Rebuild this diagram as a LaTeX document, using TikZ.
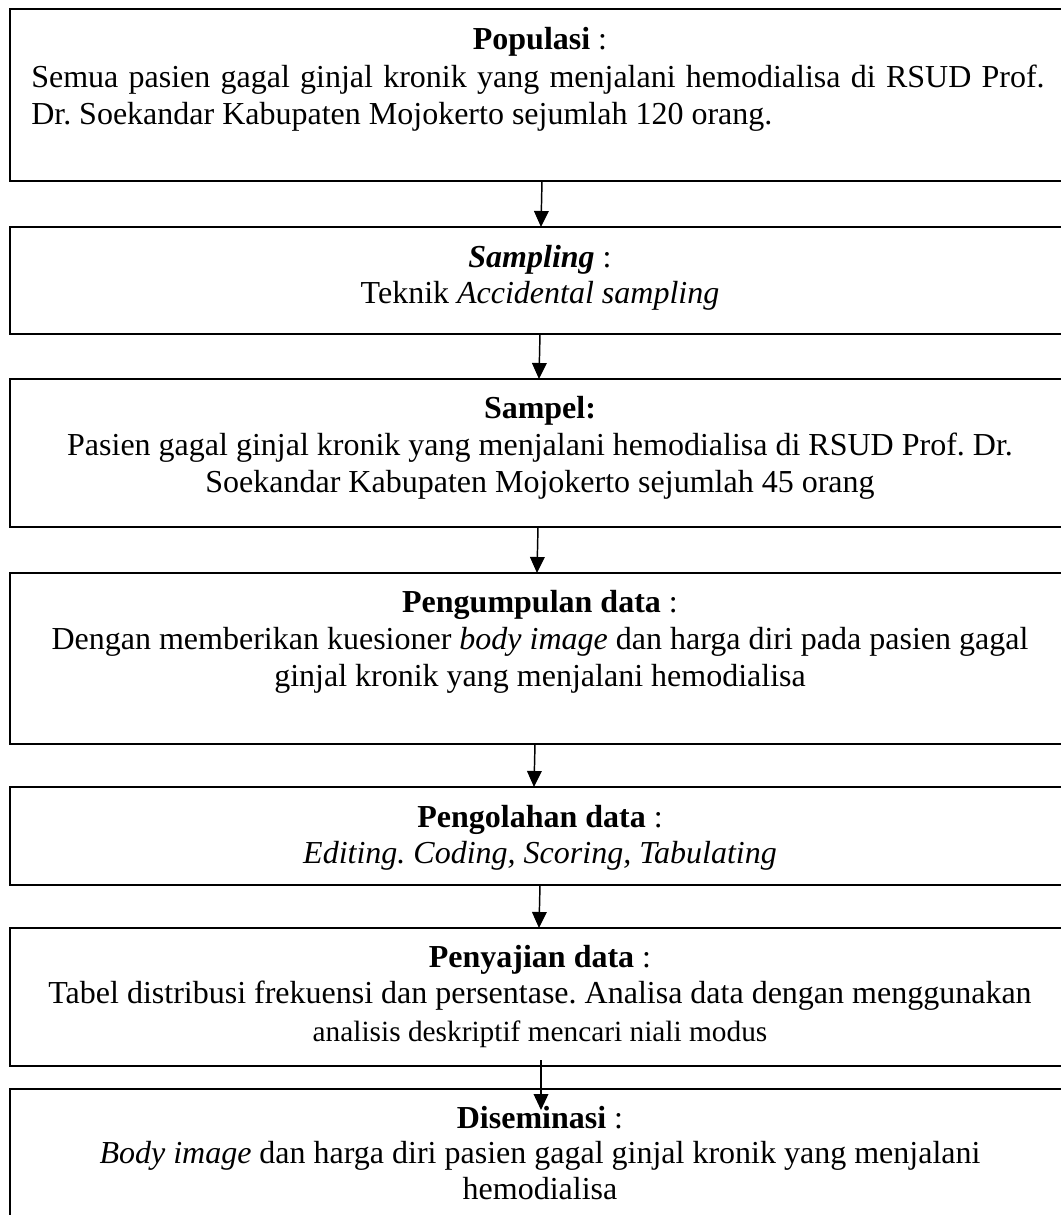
\documentclass[tikz,border=0pt]{standalone}
\usepackage{fontspec}
\setmainfont{Liberation Serif}
\usetikzlibrary{arrows.meta,calc}
\frenchspacing
\begin{document}
\frenchspacing
\begin{tikzpicture}[x=0.75pt,y=-0.75pt,
  box/.style={draw, line width=1.1pt, rectangle, inner sep=0pt, outer sep=0pt, minimum width=795pt, anchor=north west},
  txt/.style={inner sep=0pt, anchor=base, font=\fontsize{24}{28}\selectfont},
  txtl/.style={txt, anchor=base west},
  arr/.style={line width=1.1pt, -{Triangle[length=12pt,width=11pt]}}]
\useasboundingbox (0,0) rectangle (1061,1215);
% boxes
\node[box, minimum height=129pt]    (b1) at (10,9) {};
\node[box, minimum height=80.25pt]  (b2) at (10,227) {};
\node[box, minimum height=111pt]    (b3) at (10,379) {};
\node[box, minimum height=128.25pt] (b4) at (10,573) {};
\node[box, minimum height=73.5pt]   (b5) at (10,787) {};
\node[box, minimum height=103.5pt]  (b6) at (10,928) {};
\node[box, minimum height=113.25pt] (b7) at (10,1089) {};
% texts
\node[txt]  (t1)  at (540,49)  {\textbf{Populasi} :};
\node[txtl] (t1a) at (31,87)   {\makebox[760pt][s]{Semua pasien gagal ginjal kronik yang menjalani hemodialisa di RSUD Prof.}};
\node[txtl] (t1b) at (31,124)  {Dr. Soekandar Kabupaten Mojokerto sejumlah 120 orang.};
\node[txt]  (t2)  at (540,267) {\textbf{\textit{Sampling}} :};
\node[txt]  (t2a) at (540,303) {Teknik \textit{Accidental sampling}};
\node[txt]  (t3)  at (540,418) {\textbf{Sampel:}};
\node[txt]  (t3a) at (540,455) {Pasien gagal ginjal kronik yang menjalani hemodialisa di RSUD Prof. Dr.};
\node[txt]  (t3b) at (540,492) {Soekandar Kabupaten Mojokerto sejumlah 45 orang};
\node[txt]  (t4)  at (540,612) {\textbf{Pengumpulan data} :};
\node[txt]  (t4a) at (540,649) {Dengan memberikan kuesioner \textit{body image} dan harga diri pada pasien gagal};
\node[txt]  (t4b) at (540,686) {ginjal kronik yang menjalani hemodialisa};
\node[txt]  (t5)  at (540,827) {\textbf{Pengolahan data} :};
\node[txt]  (t5a) at (540,863) {\textit{Editing. Coding, Scoring, Tabulating}};
\node[txt]  (t6)  at (540,967) {\textbf{Penyajian data} :};
\node[txt]  (t6a) at (540,1003) {Tabel distribusi frekuensi dan persentase. Analisa data dengan menggunakan};
\node[txt]  (t6b) at (540,1041) {\fontsize{22}{26}\selectfont analisis deskriptif mencari niali modus};
\node[txt]  (t7)  at (540,1128) {\textbf{Diseminasi} :};
\node[txt]  (t7a) at (540,1163) {\textit{Body image} dan harga diri pasien gagal ginjal kronik yang menjalani};
\node[txt]  (t7b) at (540,1199) {hemodialisa};
% arrows
\draw[arr] ($(b1.south)+(2,0)$)  -- ($(b2.north)+(1,0)$);
\draw[arr] ($(b2.south)+(0,0)$)  -- ($(b3.north)+(-1,0)$);
\draw[arr] ($(b3.south)+(-2,0)$) -- ($(b4.north)+(-3,0)$);
\draw[arr] ($(b4.south)+(-5,0)$) -- ($(b5.north)+(-6,0)$);
\draw[arr] ($(b5.south)+(0,0)$)  -- ($(b6.north)+(-1,0)$);
\draw[arr] ($(b6.south)+(1,-6)$) -- ($(b7.north)+(1,21)$);
\end{tikzpicture}
\end{document}
